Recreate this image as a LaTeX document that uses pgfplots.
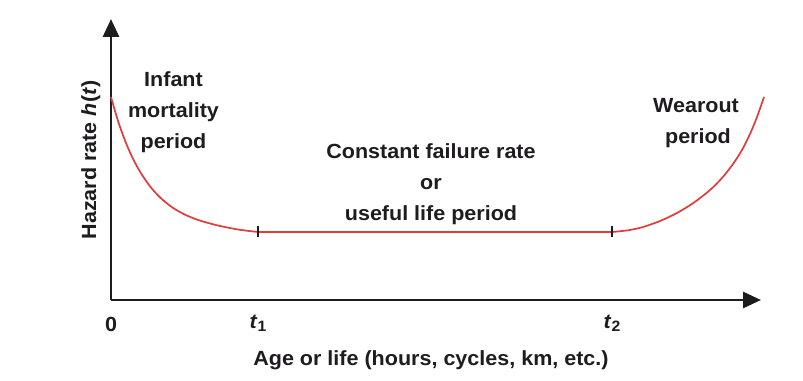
\documentclass[border=0pt]{standalone}
\usepackage{pgfplots}
\pgfplotsset{compat=1.18}
\usepackage{fontspec}
\setmainfont{Liberation Sans}[FakeStretch=1.05]
\usetikzlibrary{arrows.meta}
\definecolor{curvered}{RGB}{224,60,60}
\definecolor{ink}{RGB}{30,28,30}
\tikzset{lbl/.style={font=\fontsize{20.5bp}{24bp}\selectfont\bfseries, text=ink, inner sep=0pt, anchor=base}}
\begin{document}
\begin{tikzpicture}
\useasboundingbox (0,0) rectangle (803bp,381bp);
\begin{axis}[
  at={(111bp,81bp)}, anchor=south west,
  x=1bp, y=1bp,
  xmin=111, xmax=761, ymin=81, ymax=362,
  axis lines=left,
  axis line style={line width=2.8bp, ink, -{Triangle[length=18bp,width=16bp]}},
  xtick=\empty, ytick=\empty,
  clip=false,
]
\addplot[curvered, line width=1.7bp, smooth] coordinates {
 (111,284) (118,260.1) (125,240.5) (132,224.3) (140,209.3) (150,194.7)
 (160,183.6) (172,173.8) (185,166.3) (200,160.4) (218,155.5) (238,151.5) (258,149)
};
\addplot[curvered, line width=1.7bp] coordinates {(258,149) (612,149)};
\addplot[curvered, line width=1.7bp, smooth] coordinates {
 (612,149) (628,150.7) (643,154) (660,160) (677,168) (694,178.5) (710,191)
 (722,203) (733,217) (742,231) (750,247) (757,264) (764,284)
};
\addplot[only marks, mark=|, mark size=5.5bp, mark options={line width=1.4bp, ink}] coordinates {(258,149) (612,149)};

\node[lbl] at (axis cs:173.5,295) {Infant};
\node[lbl] at (axis cs:173.5,264) {mortality};
\node[lbl] at (axis cs:173.5,233) {period};
\node[lbl] at (axis cs:696,269) {Wearout};
\node[lbl] at (axis cs:698,238) {period};
\node[lbl] at (axis cs:431,223) {Constant failure rate};
\node[lbl] at (axis cs:431,192) {or};
\node[lbl] at (axis cs:431,161) {useful life period};
\node[lbl] at (axis cs:111,50) {0};
\node[lbl] at (axis cs:258,53) {\textit{t}\raisebox{-3bp}{\fontsize{15bp}{15bp}\selectfont 1}};
\node[lbl] at (axis cs:612,53) {\textit{t}\raisebox{-3bp}{\fontsize{15bp}{15bp}\selectfont 2}};
\node[lbl] at (axis cs:431,16) {Age or life (hours, cycles, km, etc.)};
\node[lbl, rotate=90] at (axis cs:96,221) {Hazard rate \textit{h}(\textit{t})};
\end{axis}
\end{tikzpicture}
\end{document}
